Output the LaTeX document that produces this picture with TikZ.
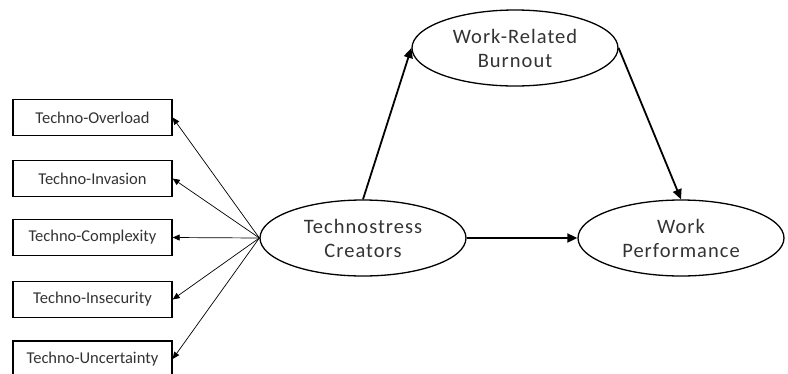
\documentclass[tikz,border=0pt]{standalone}
\usepackage{fontspec}
\setmainfont{Carlito}
\newfontfamily\ellfont[LetterSpace=5]{Carlito}
\usetikzlibrary{shapes.geometric,arrows.meta}

\begin{document}
\begin{tikzpicture}[x=1pt, y=-1pt,
  factor/.style={draw, line width=1.3pt, rectangle, minimum width=159pt, minimum height=36pt, inner sep=0pt, text=black!80, font=\fontsize{16.5}{16.5}\selectfont},
  construct/.style={draw, line width=1.3pt, ellipse, minimum width=206pt, minimum height=76pt, inner sep=0pt, align=center, text=black!80, font=\ellfont\fontsize{20.5}{24}\selectfont},
  thin arrow/.style={-{Triangle[length=7pt, width=6pt]}, line width=0.7pt},
  path arrow/.style={-{Triangle[length=10pt, width=9pt]}, line width=1.8pt}
]
\useasboundingbox (0,0) rectangle (788,373);

\node[construct] (tsc) at (363,238) {Technostress\\Creators};
\node[construct] (wrb) at (515,48) {Work-Related\\Burnout};
\node[construct] (wp) at (681,238) {Work\\Performance};

\node[factor] (overload) at (92.5,117.5) {Techno-Overload};
\node[factor] (invasion) at (92.5,178.5) {Techno-Invasion};
\node[factor] (complexity) at (92.5,237.5) {Techno-Complexity};
\node[factor] (insecurity) at (92.5,299.5) {Techno-Insecurity};
\node[factor] (uncertainty) at (92.5,359) {Techno-Uncertainty};

% second-order factor
\foreach \f in {overload, invasion, complexity, insecurity, uncertainty}
  \draw[thin arrow] (tsc.west) -- (\f.east);

% structural paths
\draw[path arrow] (tsc.north) -- (wrb.west);
\draw[path arrow] (wrb.east) -- (wp.north);
\draw[path arrow] (tsc.east) -- (wp.west);
\end{tikzpicture}
\end{document}
